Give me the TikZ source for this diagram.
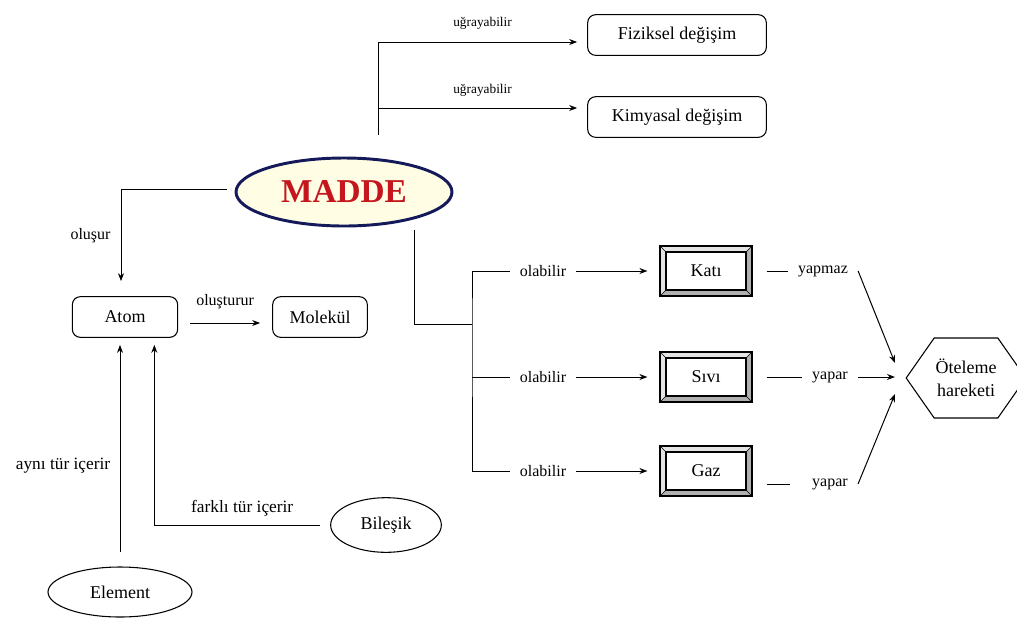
\documentclass[tikz,border=0pt]{standalone}
\usepackage{fontspec}
\setmainfont{Liberation Serif}
\usepackage{xcolor}
\usepackage{tikz}
\usetikzlibrary{arrows.meta, positioning, shapes.geometric, shapes.symbols}
\definecolor{maddefill}{HTML}{FFFDE4}
\definecolor{maddeline}{HTML}{14195A}
\definecolor{maddered}{HTML}{C4161C}
\tikzset{
  rbox/.style    = {rectangle, draw, rounded corners=6pt, line width=0.8pt,
                    align=center, font=\fontsize{13.5}{17}\selectfont,
                    inner sep=2pt, minimum height=30.5pt},
  oval/.style    = {ellipse, draw, line width=0.8pt, inner sep=0pt,
                    font=\fontsize{13.5}{17}\selectfont},
  bevelbox/.style= {rectangle, draw, line width=0.9pt, fill=gray!22,
                    font=\fontsize{13.5}{17}\selectfont,
                    minimum width=69pt, minimum height=37.5pt,
                    path picture={
                      \fill[gray!62] (path picture bounding box.south west)
                        -- (path picture bounding box.south east)
                        -- (path picture bounding box.north east)
                        -- ([shift={(-4.5pt,-4.5pt)}]path picture bounding box.north east)
                        -- ([shift={(-4.5pt,4.5pt)}]path picture bounding box.south east)
                        -- ([shift={(4.5pt,4.5pt)}]path picture bounding box.south west)
                        -- cycle;
                      \foreach \c/\dx/\dy in {south west/1/1, south east/-1/1,
                                             north east/-1/-1, north west/1/-1}
                        \draw[line width=0.4pt] (path picture bounding box.\c)
                          -- ++(\dx*4.5pt,\dy*4.5pt);
                      \draw[fill=white, line width=0.8pt]
                        ([shift={(4.5pt,4.5pt)}]path picture bounding box.south west)
                        rectangle ([shift={(-4.5pt,-4.5pt)}]path picture bounding box.north east);
                    }},
  hexbox/.style  = {signal, signal to=west and east, signal pointer angle=110,
                    draw, line width=0.8pt, align=center, inner sep=1pt,
                    font=\fontsize{13.5}{17}\selectfont,
                    minimum width=80pt, minimum height=60pt},
  arr/.style     = {-{Stealth[length=6pt, width=4.5pt]}, line width=0.75pt},
  ln/.style      = {line width=0.75pt},
  lbl/.style     = {font=\fontsize{12}{14}\selectfont, inner xsep=7.5pt, inner ysep=1pt},
  lblsm/.style   = {font=\fontsize{10}{12}\selectfont, inner sep=1pt},
  lblbig/.style  = {font=\fontsize{13}{15}\selectfont, inner sep=1pt},
}

\begin{document}
\begin{tikzpicture}[x=0.75pt, y=-0.75pt]
  \useasboundingbox (0,0) rectangle (1017,619);

  \node[ellipse, draw=maddeline, line width=2.2pt, fill=maddefill, inner sep=0pt,
        minimum width=162pt, minimum height=51pt,
        font=\fontsize{25}{30}\selectfont\bfseries, text=maddered] (madde) at (344,192) {MADDE};
  \node[rbox, minimum width=134pt] (fiz) at (677,35)  {Fiziksel değişim};
  \node[rbox, minimum width=134pt] (kim) at (677,117) {Kimyasal değişim};
  \node[rbox, minimum width=79pt]  (atom) at (125,317) {Atom};
  \node[rbox, minimum width=71pt]  (mol)  at (320,317) {Molekül};
  \node[oval, minimum width=108pt, minimum height=37.5pt] (elem) at (120,592) {Element};
  \node[oval, minimum width=83pt, minimum height=41pt]    (bil)  at (386,525) {Bileşik};
  \node[bevelbox] (kati) at (706,271) {Katı};
  \node[bevelbox] (sivi) at (706,377) {Sıvı};
  \node[bevelbox] (gaz)  at (706,471) {Gaz};
  \node[hexbox] (hex) at (966,378) {Öteleme\\hareketi};

  \node[lbl] (ol1) at (543,271) {olabilir};
  \node[lbl] (ol2) at (543,377) {olabilir};
  \node[lbl] (ol3) at (543,471) {olabilir};
  \node[lbl] (ymaz) at (823,271) {yapmaz};
  \node[lbl] (yp1)  at (830,377) {yapar};
  \node[lbl] (yp2)  at (830,484) {yapar};

  \coordinate (mtop)  at (378,135);
  \coordinate (mleft) at (227,189);
  \coordinate (mbot)  at (414,230);
  \coordinate (fork)  at (472,324);
  \coordinate (tip1)  at (895,363);
  \coordinate (tip2)  at (895,377);
  \coordinate (tip3)  at (895,394);

  \draw[arr, shorten >=7.5pt] (mtop) |- ([yshift=-5.25pt]fiz.west)
    node[lblsm, pos=0.75, above=8pt] {uğrayabilir};
  \draw[arr, shorten >=7.5pt] (mtop) |- ([yshift=6.75pt]kim.west)
    node[lblsm, pos=0.75, above=7pt] {uğrayabilir};

  \draw[arr, shorten >=11.25pt] (mleft) -| ([xshift=-3pt]atom.north)
    node[lbl, pos=0.72, left=0pt] {oluşur};
  \draw[arr, shorten <=9pt, shorten >=9pt] ([yshift=-4.5pt]atom.east) -- ([yshift=-4.5pt]mol.west)
    node[lbl, midway, above=9pt] {oluşturur};
  \draw[arr, shorten <=10.5pt, shorten >=5.25pt] (elem.north) -- (elem.north |- atom.south)
    node[lblbig, pos=0.44, left=6pt] {aynı tür içerir};
  \draw[arr, shorten <=7.5pt, shorten >=5.25pt] (bil.west) -| ([xshift=22pt]atom.south)
    node[lblbig, pos=0.25, above=5pt] {farklı tür içerir};

  \draw[ln] (mbot) |- (fork);
  \draw[ln] (ol1.west) -| (fork) |- (ol3.west);
  \draw[ln] (ol2.west) -- (ol2.west -| fork);
  \foreach \src/\dst in {ol1/kati, ol2/sivi, ol3/gaz}
    \draw[arr, shorten >=9pt] (\src.east) -- (\dst.west);

  \draw[ln, shorten <=10.5pt] (kati.east) -- (ymaz.west);
  \draw[ln, shorten <=10.5pt] (sivi.east) -- (yp1.west);
  \draw[ln, shorten <=10.5pt, shorten >=9pt] (gaz.east |- yp2.west) -- (yp2.west);
  \draw[arr] (ymaz.east) -- (tip1);
  \draw[arr] (yp1.east)  -- (tip2);
  \draw[arr] (yp2.east)  -- (tip3);
\end{tikzpicture}
\end{document}
